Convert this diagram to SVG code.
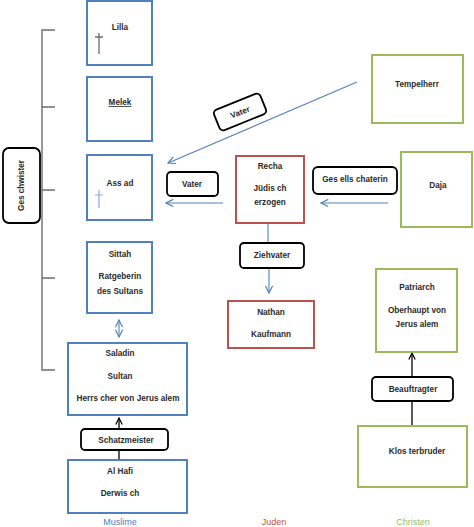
<svg xmlns="http://www.w3.org/2000/svg" width="474" height="527" viewBox="0 0 474 527">
<defs>
<style>
.t{font-family:"Liberation Sans",Arial,sans-serif;font-size:8.2px;font-weight:bold;fill:#2a2a2a;text-anchor:middle}
.mus{fill:#fff;stroke:#4f81bd;stroke-width:2}
.jud{fill:#fff;stroke:#c0504d;stroke-width:2}
.chr{fill:#fff;stroke:#9bbb59;stroke-width:2}
.lab{fill:#fff;stroke:#000;stroke-width:1.8}
.bl{stroke:#4f81bd;stroke-width:1.1;fill:none}
.bk{stroke:#000;stroke-width:1.3;fill:none}
.grp{font-family:"Liberation Sans",Arial,sans-serif;font-size:9px;text-anchor:middle}
</style>
<marker id="ab" viewBox="0 0 10 10" refX="9" refY="5" markerWidth="9" markerHeight="9" markerUnits="userSpaceOnUse" orient="auto-start-reverse">
<path d="M1,1 L9,5 L1,9" fill="none" stroke="#4f81bd" stroke-width="1.3"/>
</marker>
<marker id="ak" viewBox="0 0 10 10" refX="9" refY="5" markerWidth="8" markerHeight="8" markerUnits="userSpaceOnUse" orient="auto">
<path d="M1,1 L9,5 L1,9" fill="none" stroke="#000" stroke-width="1.5"/>
</marker>
</defs>
<rect width="474" height="527" fill="#fff"/>

<g id="connectors">
<path d="M55,30 H42 V370 H55 M42,107 H55 M42,190 H55 M42,278 H55" stroke="#6d6d6d" stroke-width="1.4" fill="none"/>
<line class="bl" x1="357" y1="82" x2="168" y2="163" marker-end="url(#ab)"/>
<line class="bl" x1="223" y1="203" x2="166" y2="203" marker-end="url(#ab)"/>
<line class="bl" x1="388" y1="203" x2="321" y2="203" marker-end="url(#ab)"/>
<line class="bl" x1="268" y1="224" x2="268" y2="243"/>
<line class="bl" x1="269" y1="268" x2="269" y2="293" marker-end="url(#ab)"/>
<line class="bl" x1="119" y1="320" x2="119" y2="337" marker-start="url(#ab)" marker-end="url(#ab)"/>
<line class="bk" x1="119" y1="460" x2="119" y2="418" marker-end="url(#ak)"/>
<line class="bk" x1="412" y1="426" x2="412" y2="353" marker-end="url(#ak)"/>
</g>

<g id="geschwister">
<rect class="lab" x="3" y="148" width="37" height="75" rx="6"/>
<text class="t" transform="translate(24,185.5) rotate(-90)">Ges chwister</text>
</g>

<g id="lilla">
<rect class="mus" x="87" y="1" width="65" height="64"/>
<text class="t" x="120" y="30">Lilla</text>
<path d="M99,33 V54 M95,37 H103" stroke="#6b6b6b" stroke-width="1.3"/>
</g>

<g id="melek">
<rect class="mus" x="87" y="77" width="65" height="64"/>
<text class="t" x="120" y="105" text-decoration="underline">Melek</text>
</g>

<g id="assad">
<rect class="mus" x="87" y="155" width="65" height="65"/>
<text class="t" x="120" y="186">Ass ad</text>
<path d="M99,190 V208 M95,195 H103" stroke="#8da8d8" stroke-width="1.2"/>
</g>

<g id="sittah">
<rect class="mus" x="87" y="242" width="65" height="71"/>
<text class="t" x="120" y="257">Sittah</text>
<text class="t" x="120" y="279">Ratgeberin</text>
<text class="t" x="120" y="294">des Sultans</text>
</g>

<g id="saladin">
<rect class="mus" x="68" y="343" width="119" height="72"/>
<text class="t" x="120" y="356">Saladin</text>
<text class="t" x="120" y="379">Sultan</text>
<text class="t" x="128" y="401">Herrs cher von Jerus alem</text>
</g>

<g id="schatzmeister">
<rect class="lab" x="81" y="429" width="87" height="21" rx="4"/>
<text class="t" x="126" y="443">Schatzmeister</text>
</g>

<g id="alhafi">
<rect class="mus" x="68" y="460" width="119" height="53"/>
<text class="t" x="120" y="474">Al Hafi</text>
<text class="t" x="120" y="496">Derwis ch</text>
</g>

<g id="tempelherr">
<rect class="chr" x="372" y="55" width="91" height="68"/>
<text class="t" x="417" y="87">Tempelherr</text>
</g>

<g id="vater1">
<g transform="translate(240,112) rotate(-22)">
<rect class="lab" x="-25" y="-11" width="50" height="22" rx="4"/>
<text class="t" x="0" y="3">Vater</text>
</g>
</g>

<g id="vater2">
<rect class="lab" x="167" y="172" width="51" height="24" rx="4"/>
<text class="t" x="192" y="187">Vater</text>
</g>

<g id="recha">
<rect class="jud" x="236" y="156" width="68" height="67"/>
<text class="t" x="270" y="169">Recha</text>
<text class="t" x="270" y="191">Jüdis ch</text>
<text class="t" x="270" y="205">erzogen</text>
</g>

<g id="gesellschaterin">
<rect class="lab" x="313" y="167" width="84" height="27" rx="5"/>
<text class="t" x="355" y="182">Ges ells chaterin</text>
</g>

<g id="daja">
<rect class="chr" x="401" y="152" width="71" height="75"/>
<text class="t" x="438" y="188">Daja</text>
</g>

<g id="ziehvater">
<rect class="lab" x="240" y="243" width="64" height="25" rx="4"/>
<text class="t" x="272" y="258">Ziehvater</text>
</g>

<g id="nathan">
<rect class="jud" x="228" y="301" width="86" height="47"/>
<text class="t" x="271" y="315">Nathan</text>
<text class="t" x="271" y="337">Kaufmann</text>
</g>

<g id="patriarch">
<rect class="chr" x="376" y="269" width="81" height="83"/>
<text class="t" x="417" y="290">Patriarch</text>
<text class="t" x="417" y="313">Oberhaupt von</text>
<text class="t" x="417" y="327">Jerus alem</text>
</g>

<g id="beauftragter">
<rect class="lab" x="372" y="377" width="81" height="24" rx="4"/>
<text class="t" x="413" y="392">Beauftragter</text>
</g>

<g id="klosterbruder">
<rect class="chr" x="358" y="426" width="109" height="61"/>
<text class="t" x="417" y="454">Klos terbruder</text>
</g>

<g id="groups">
<text class="grp" x="120" y="525" fill="#4f81bd">Muslime</text>
<text class="grp" x="274" y="525" fill="#c0504d">Juden</text>
<text class="grp" x="413" y="525" fill="#9bbb59">Christen</text>
</g>
</svg>
